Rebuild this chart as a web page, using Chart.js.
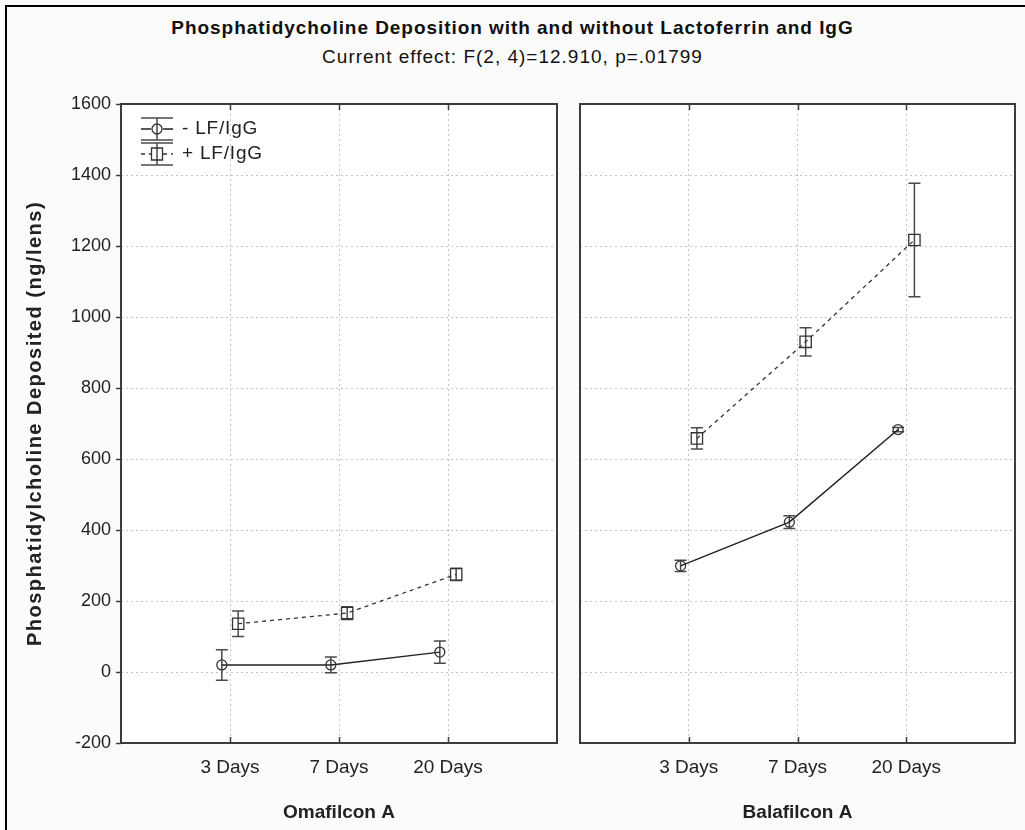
<!DOCTYPE html>
<html>
<head>
<meta charset="utf-8">
<title>Phosphatidycholine Deposition</title>
<script src="https://cdn.jsdelivr.net/npm/chart.js@4.4.1/dist/chart.umd.min.js"></script>
<style>
  html, body { margin: 0; padding: 0; background: #fbfbfb; }
  body { width: 1025px; height: 830px; position: relative; overflow: hidden;
         font-family: "Liberation Sans", Arial, sans-serif; color: #111; }
  #frame { position: absolute; left: 5px; top: 5px; width: 1040px; height: 850px;
           border-left: 2px solid #000; border-top: 2px solid #000; }
  #title { position: absolute; left: 0; width: 1025px; top: 17px; text-align: center;
           font-weight: bold; font-size: 19px; letter-spacing: 0.95px; }
  #subtitle { position: absolute; left: 0; width: 1025px; top: 46px; text-align: center;
              font-size: 19px; letter-spacing: 1px; }
  canvas { position: absolute; top: 0; }
  #leftPanel { left: 0; }
  #rightPanel { left: 568px; }
</style>
</head>
<body>
<div id="frame"></div>
<div id="title">Phosphatidycholine Deposition with and without Lactoferrin and IgG</div>
<div id="subtitle">Current effect: F(2, 4)=12.910, p=.01799</div>
<canvas id="leftPanel" width="568" height="830"></canvas>
<canvas id="rightPanel" width="457" height="830"></canvas>
<script>
// Time points on the x axis and the two lens materials (one panel each)
const timepoints = ['3 Days', '7 Days', '20 Days'];
const lensMaterials = ['Omafilcon A', 'Balafilcon A'];
const seriesNames = ['- LF/IgG', '+ LF/IgG'];

// Mean PC deposition (ng/lens) and error half-widths
const omaWithout = [20, 20, 56];
const omaWithoutErr = [43, 22, 31];
const omaWith = [136, 166, 275];
const omaWithErr = [36, 18, 17];

const balaWithout = [299, 422, 683];
const balaWithoutErr = [16, 18, 6];
const balaWith = [658, 930, 1217];
const balaWithErr = [30, 40, 160];

// Shared value axis
const yMin = -200, yMax = 1600, yStep = 200;
const yTitle = 'Phosphatidylcholine Deposited (ng/lens)';

const FONT = '"Liberation Sans", Arial, sans-serif';
const INK = '#222';
const PLOT_TOP = 104, PLOT_BOTTOM = 743, CANVAS_H = 830;
const JITTER = 0.075; // side-by-side spread of the two groups at each time point

// white plot area, dark frame and inward x ticks
const framePlugin = {
  id: 'plotFrame',
  beforeDraw(chart) {
    const { ctx, chartArea: a } = chart;
    ctx.save();
    ctx.fillStyle = '#ffffff';
    ctx.fillRect(a.left, a.top, a.right - a.left, a.bottom - a.top);
    ctx.restore();
  },
  afterDraw(chart) {
    const { ctx, chartArea: a, scales: { x } } = chart;
    ctx.save();
    ctx.strokeStyle = '#3c3c3c';
    ctx.lineWidth = 2;
    ctx.setLineDash([]);
    ctx.strokeRect(a.left, a.top, a.right - a.left, a.bottom - a.top);
    ctx.lineWidth = 1.5;
    ctx.beginPath();
    x.ticks.forEach(t => {
      const px = Math.round(x.getPixelForValue(t.value)) + 0.5;
      ctx.moveTo(px, a.bottom); ctx.lineTo(px, a.bottom - 6);
      ctx.moveTo(px, a.top); ctx.lineTo(px, a.top + 6);
    });
    ctx.stroke();
    ctx.restore();
  }
};

// rotated value-axis title, letter-spaced to the wide screen font
const yTitlePlugin = {
  id: 'yTitle',
  afterDraw(chart, args, opts) {
    if (!opts.show) return;
    const { ctx, chartArea: a } = chart;
    ctx.save();
    ctx.translate(35, (a.top + a.bottom) / 2);
    ctx.rotate(-Math.PI / 2);
    ctx.font = 'bold 20px ' + FONT;
    if ('letterSpacing' in ctx) ctx.letterSpacing = '1.5px';
    ctx.fillStyle = INK;
    ctx.textAlign = 'center';
    ctx.textBaseline = 'middle';
    ctx.fillText(yTitle, 0, 0);
    ctx.restore();
  }
};

// vertical error bars with caps, drawn beneath the markers
const errorBarPlugin = {
  id: 'errorBars',
  beforeDatasetsDraw(chart) {
    const { ctx, scales: { x, y } } = chart;
    ctx.save();
    ctx.strokeStyle = '#4a4a4a';
    ctx.lineWidth = 1.5;
    ctx.setLineDash([]);
    chart.data.datasets.forEach(ds => {
      ds.data.forEach((pt, i) => {
        const e = ds.errors[i];
        const px = x.getPixelForValue(pt.x);
        const top = y.getPixelForValue(pt.y + e);
        const bot = y.getPixelForValue(pt.y - e);
        ctx.beginPath();
        ctx.moveTo(px, top); ctx.lineTo(px, bot);
        ctx.moveTo(px - 6, top); ctx.lineTo(px + 6, top);
        ctx.moveTo(px - 6, bot); ctx.lineTo(px + 6, bot);
        ctx.stroke();
      });
    });
    ctx.restore();
  }
};

function drawMarker(ctx, style, cx, cy) {
  ctx.beginPath();
  if (style === 'circle') {
    ctx.arc(cx, cy, 5, 0, Math.PI * 2);
  } else {
    ctx.rect(cx - 5.5, cy - 6, 11, 12);
  }
  ctx.stroke();
}

// legend with line sample, marker and error caps, inside the plot corner
const legendPlugin = {
  id: 'capLegend',
  afterDraw(chart, args, opts) {
    if (!opts.show) return;
    const { ctx, chartArea: a } = chart;
    chart.data.datasets.forEach((ds, i) => {
      const cy = a.top + 25 + i * 25;
      const x0 = a.left + 20, x1 = a.left + 52, cx = (x0 + x1) / 2;
      ctx.save();
      ctx.strokeStyle = '#4a4a4a';
      ctx.lineWidth = 1.5;
      ctx.beginPath();
      ctx.moveTo(x0, cy - 11); ctx.lineTo(x1, cy - 11);
      ctx.moveTo(x0, cy + 11); ctx.lineTo(x1, cy + 11);
      ctx.moveTo(cx, cy - 11); ctx.lineTo(cx, cy + 11);
      ctx.stroke();
      ctx.strokeStyle = ds.borderColor;
      ctx.lineWidth = ds.borderWidth;
      ctx.setLineDash(ds.borderDash || []);
      ctx.beginPath();
      ctx.moveTo(x0, cy); ctx.lineTo(cx - 6, cy);
      ctx.moveTo(cx + 6, cy); ctx.lineTo(x1, cy);
      ctx.stroke();
      ctx.setLineDash([]);
      ctx.strokeStyle = '#333';
      ctx.lineWidth = 1.3;
      drawMarker(ctx, ds.pointStyle, cx, cy);
      ctx.fillStyle = INK;
      ctx.font = '19px ' + FONT;
      if ('letterSpacing' in ctx) ctx.letterSpacing = '0.8px';
      ctx.textAlign = 'left';
      ctx.textBaseline = 'middle';
      ctx.fillText(ds.label, x1 + 9, cy);
      ctx.restore();
    });
  }
};

function makeDatasets(withoutVals, withoutErr, withVals, withErr) {
  return [
    {
      label: seriesNames[0],
      data: withoutVals.map((v, i) => ({ x: i + 1 - JITTER, y: v })),
      errors: withoutErr,
      borderColor: '#222',
      borderWidth: 1.5,
      pointStyle: 'circle',
      pointRadius: 5,
      pointHoverRadius: 5,
      pointBorderColor: '#333',
      pointBackgroundColor: 'rgba(0,0,0,0)',
      pointBorderWidth: 1.3,
      tension: 0
    },
    {
      label: seriesNames[1],
      data: withVals.map((v, i) => ({ x: i + 1 + JITTER, y: v })),
      errors: withErr,
      borderColor: '#333',
      borderWidth: 1.3,
      borderDash: [4, 4],
      pointStyle: 'rect',
      pointRadius: 8,
      pointHoverRadius: 8,
      pointBorderColor: '#333',
      pointBackgroundColor: 'rgba(0,0,0,0)',
      pointBorderWidth: 1.3,
      tension: 0
    }
  ];
}

function makePanel(canvasId, material, datasets, opts) {
  return new Chart(document.getElementById(canvasId), {
    type: 'line',
    data: { datasets },
    options: {
      responsive: false,
      animation: false,
      events: [],
      layout: { padding: { top: PLOT_TOP, right: opts.rightPad, bottom: 0, left: 0 } },
      plugins: {
        legend: { display: false },
        title: { display: false },
        tooltip: { enabled: false },
        capLegend: { show: opts.legend },
        yTitle: { show: opts.yLabels }
      },
      scales: {
        x: {
          type: 'linear',
          min: 0,
          max: timepoints.length + 1,
          afterBuildTicks: s => { s.ticks = timepoints.map((_, i) => ({ value: i + 1 })); },
          afterFit: s => { s.height = CANVAS_H - PLOT_BOTTOM; },
          ticks: {
            callback: (v, i) => timepoints[i],
            color: INK,
            font: { family: FONT, size: 19 },
            padding: 13,
            maxRotation: 0,
            autoSkip: false
          },
          grid: { color: '#c4c4c4', lineWidth: 1, drawTicks: false },
          border: { display: false, dash: [2, 3] },
          title: {
            display: true,
            text: material,
            color: INK,
            font: { family: FONT, size: 19, weight: 'bold' },
            padding: { top: 0, bottom: 6 }
          }
        },
        y: {
          type: 'linear',
          min: yMin,
          max: yMax,
          afterFit: s => { s.width = opts.yWidth; },
          ticks: {
            display: opts.yLabels,
            stepSize: yStep,
            callback: v => String(v),
            color: INK,
            font: { family: FONT, size: 18 },
            padding: 5
          },
          grid: { color: '#c4c4c4', lineWidth: 1, drawTicks: opts.yLabels, tickLength: 5, tickColor: '#3c3c3c', tickWidth: 1.5 },
          border: { display: false, dash: [2, 3] },
          title: { display: false }
        }
      }
    },
    plugins: [framePlugin, errorBarPlugin, legendPlugin, yTitlePlugin]
  });
}

makePanel('leftPanel', lensMaterials[0],
  makeDatasets(omaWithout, omaWithoutErr, omaWith, omaWithErr),
  { yWidth: 121, rightPad: 11, yLabels: true, legend: true });

makePanel('rightPanel', lensMaterials[1],
  makeDatasets(balaWithout, balaWithoutErr, balaWith, balaWithErr),
  { yWidth: 12, rightPad: 10, yLabels: false, legend: false });
</script>
</body>
</html>
